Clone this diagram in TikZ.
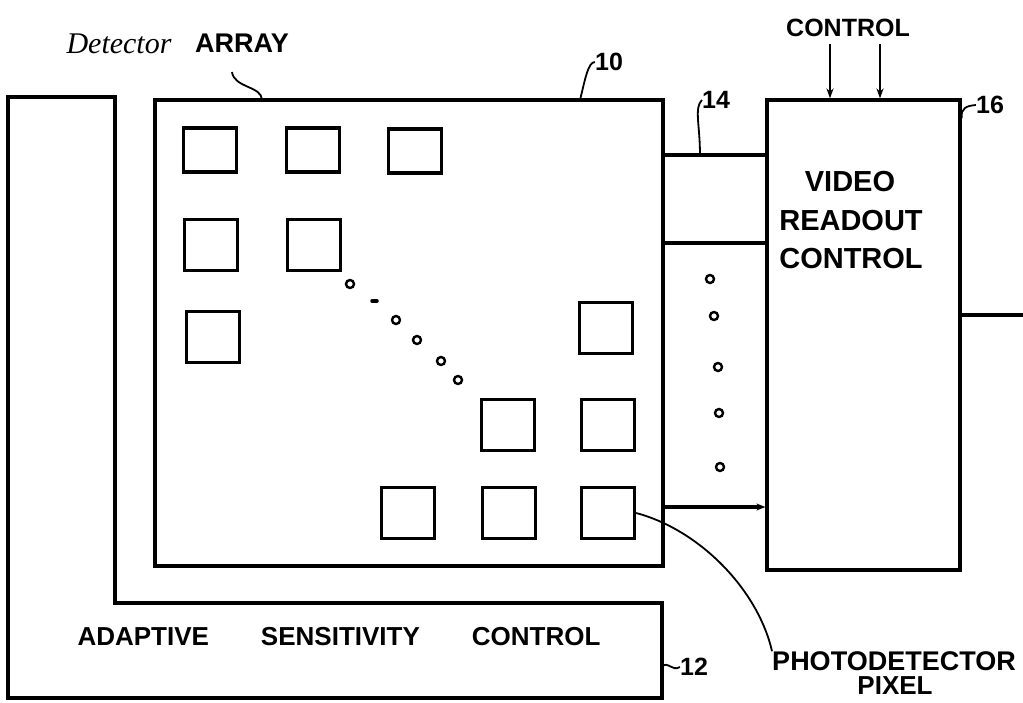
\documentclass[tikz,border=0pt]{standalone}
\usepackage{fontspec}
\setmainfont{Liberation Sans}
\newfontfamily\handfont{Liberation Serif}
\usetikzlibrary{arrows.meta}
\begin{document}
\begin{tikzpicture}[x=1pt,y=-1pt,
  thickline/.style={line width=3.2pt},
  thinline/.style={line width=1.8pt},
  pixbox/.style={draw, line width=3.2pt, minimum width=53pt, minimum height=51pt, inner sep=0pt},
  bigbox/.style={draw, line width=3.2pt, inner sep=0pt},
  lbl/.style={font=\bfseries\fontsize{25}{27}\selectfont, inner sep=0pt},
  vtxt/.style={font=\bfseries\fontsize{29}{31}\selectfont, inner sep=0pt},
  dotc/.style={line width=2.4pt},
  ctrlarrow/.style={line width=1.8pt, -{Stealth[length=10pt,width=7pt]}}
]
\useasboundingbox (0,0) rectangle (1023,702);
% adaptive sensitivity control (12)
\coordinate (a1) at (8,97);
\coordinate (a2) at (115,97);
\coordinate (a3) at (115,603);
\coordinate (a4) at (662,603);
\coordinate (a5) at (662,698);
\coordinate (a6) at (8,698);
\draw[thickline] (a1) -- (a2) -- (a3) -- (a4) -- (a5) -- (a6) -- cycle;
\node[font=\bfseries\fontsize{26}{28}\selectfont, inner sep=0pt] (asc) at (339,637)
  {ADAPTIVE\hspace{52pt}SENSITIVITY\hspace{52pt}CONTROL};
\node[lbl] (n12) at (694,667) {12};
\draw[thinline] (a4 |- n12.west) .. controls (667,660) and (672,672) .. (n12.west);
% detector array (10)
\node[bigbox, minimum width=508pt, minimum height=466pt] (array) at (409,333) {};
% pixel boxes
\node[pixbox, minimum height=44pt] (p11) at (210,150) {};
\node[pixbox, minimum height=44pt] (p12) at (313,150) {};
\node[pixbox, minimum height=44pt] (p13) at (415,151) {};
\node[pixbox] (p21) at (211,245) {};
\node[pixbox] (p22) at (314,245) {};
\node[pixbox] (p31) at (213,337) {};
\node[pixbox] (p3r) at (606,328) {};
\node[pixbox] (p44) at (508,425) {};
\node[pixbox] (p45) at (608,425) {};
\node[pixbox] (p53) at (408,513) {};
\node[pixbox] (p54) at (509,513) {};
\node[pixbox] (p55) at (608,513) {};
% diagonal dots
\foreach \x/\y in {350/284,396/320,417/340,441/361,458/380}
  \draw[dotc] (\x,\y) circle (4pt);
\draw[line width=3.5pt, line cap=round] (372,301) -- (377,301);
% video readout control (16)
\node[bigbox, minimum width=193pt, minimum height=470pt] (video) at (863.5,335) {};
\node[vtxt] (v1) at (850,182) {VIDEO};
\node[vtxt] (v2) at (851,221) {READOUT};
\node[vtxt] (v3) at (851,259) {CONTROL};
% channel lines (14)
\coordinate (y155) at (0,155);
\coordinate (y243) at (0,243);
\coordinate (y507) at (0,507);
\draw[thickline] (array.east |- y155) -- (video.west |- y155);
\draw[thickline] (array.east |- y243) -- (video.west |- y243);
\draw[thickline, -{Stealth[length=9pt,width=7pt]}] (array.east |- y507) -- (video.west |- y507);
\foreach \x/\y in {710/279,714/316,718/367,719/413,720/467}
  \draw[dotc] (\x,\y) circle (4pt);
% output line
\coordinate (out) at (1023,315);
\draw[thickline] (video.east |- out) -- (out);
% control inputs
\node[lbl] (ctrl) at (848,28) {CONTROL};
\coordinate (c1) at (830,44);
\coordinate (c2) at (880,44);
\draw[ctrlarrow] (c1) -- (video.north -| c1);
\draw[ctrlarrow] (c2) -- (video.north -| c2);
% reference labels
\node[lbl] (n10) at (609,62) {10};
\draw[thinline] (580,100) .. controls (585,80) and (588,62) .. (n10.west);
\node[lbl] (n14) at (716,100) {14};
\draw[thinline] (700,155) .. controls (700,125) and (694,108) .. (n14.west);
\node[lbl] (n16) at (990,105) {16};
\coordinate (y118) at (0,118);
\draw[thinline] (video.east |- y118) .. controls (961,108) and (966,106) .. (n16.west);
% detector array label
\node[font=\handfont\itshape\fontsize{30}{32}\selectfont, inner sep=0pt] (det) at (119,44) {Detector};
\node[lbl, font=\bfseries\fontsize{27}{29}\selectfont] (arr) at (242,43) {ARRAY};
\coordinate (arrlead) at (232,72);
\draw[thinline] (262,100) .. controls (262,86) and (234,88) .. (arrlead);
% photodetector pixel
\node[lbl, font=\bfseries\fontsize{27}{29}\selectfont] (pd1) at (894,661) {PHOTODETECTOR};
\node[lbl, font=\bfseries\fontsize{26}{28}\selectfont] (pd2) at (895,686) {PIXEL};
\draw[thinline] (p55.east) .. controls (700,530) and (758,590) .. (pd1.north west);
\end{tikzpicture}
\end{document}
